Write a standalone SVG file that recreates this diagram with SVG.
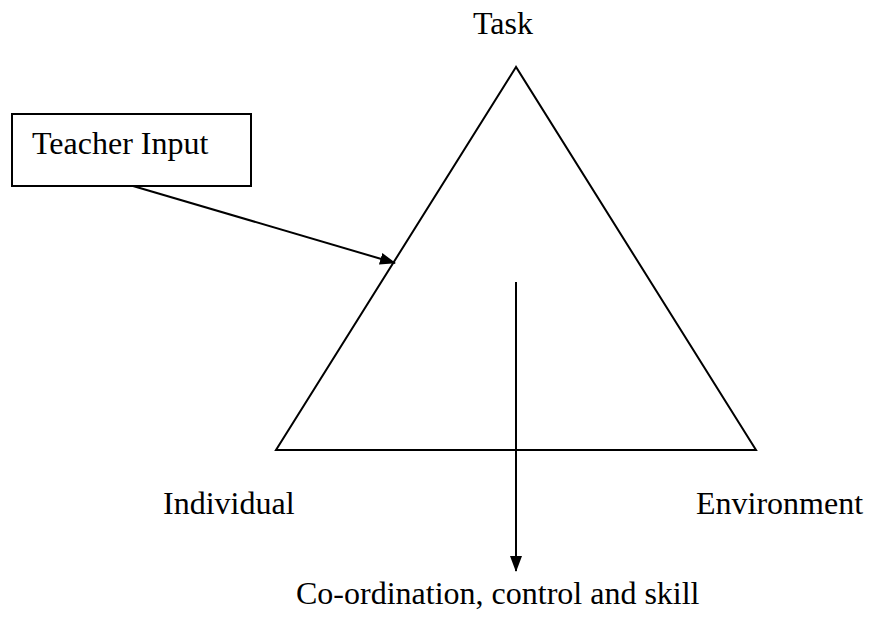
<svg xmlns="http://www.w3.org/2000/svg" width="869" height="619" viewBox="0 0 869 619">
<style>
text{font-family:"Liberation Serif","Times New Roman",serif;font-size:32px;fill:#000}
.s{fill:none;stroke:#000;stroke-width:2}
</style>
<defs>
<marker id="ah" markerWidth="16" markerHeight="16" refX="15" refY="8" orient="auto" markerUnits="userSpaceOnUse" viewBox="0 0 16 16"><path d="M0,2 L16,8 L0,14 z" fill="#000"/></marker>
</defs>
<rect width="869" height="619" fill="#fff"/>
<g id="triangle">
<polygon class="s" points="516,67 276,450 756,450"/>
</g>
<g id="teacher-input">
<rect class="s" x="12" y="114" width="239" height="72"/>
<text x="32" y="154">Teacher Input</text>
</g>
<g id="task"><text x="473" y="34">Task</text></g>
<g id="individual"><text x="163" y="514">Individual</text></g>
<g id="environment"><text x="696" y="514">Environment</text></g>
<g id="outcome"><text x="296" y="604">Co-ordination, control and skill</text></g>
<g id="connectors">
<line class="s" x1="133" y1="186" x2="395" y2="263" marker-end="url(#ah)"/>
<line class="s" x1="516" y1="282" x2="516" y2="571" marker-end="url(#ah)"/>
</g>
</svg>
